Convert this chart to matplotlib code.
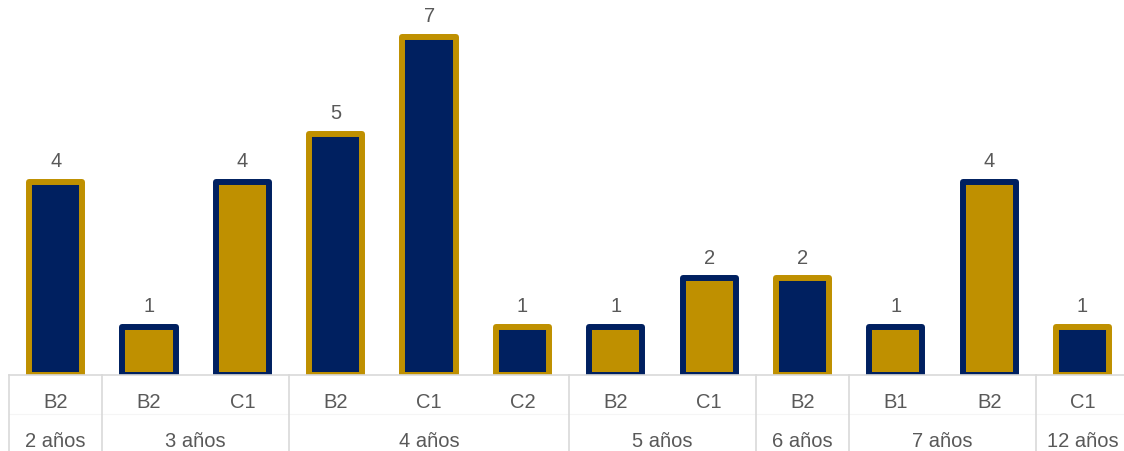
import matplotlib.pyplot as plt
import numpy as np

plt.rcParams['font.family'] = ['Liberation Sans', 'DejaVu Sans']

# data by age group
groups = ['2 años', '3 años', '4 años', '5 años', '6 años', '7 años', '12 años']
levels = [['B2'], ['B2', 'C1'], ['B2', 'C1', 'C2'], ['B2', 'C1'], ['B2'], ['B1', 'B2'], ['C1']]
counts = [[4], [1, 4], [5, 7, 1], [1, 2], [2], [1, 4], [1]]

navy = '#002060'
gold = '#BF9000'
grid = '#d9d9d9'
text_col = '#595959'

W, H = 1124, 452
fig = plt.figure(figsize=(W / 100, H / 100), dpi=100)
slot = 93.35
ax = fig.add_axes([9 / W, (H - 376) / H, 12 * slot / W, 376 / H])

x = 0
bounds = [-0.5]
for gi, (g, labs, vals) in enumerate(zip(groups, levels, counts)):
    face, edge = (navy, gold) if gi % 2 == 0 else (gold, navy)
    start = x
    for lab, v in zip(labs, vals):
        ax.bar(x, v, width=0.57, color=face, edgecolor=edge,
               linewidth=4.3, joinstyle='round', zorder=2)
        ax.annotate(str(v), (x, v), xytext=(0, 8.5), textcoords='offset points',
                    ha='center', va='bottom', fontsize=14.5, color=text_col)
        ax.text(x, -0.54, lab, ha='center', va='center', fontsize=14.5,
                color=text_col, clip_on=False)
        x += 1
    ax.text((start + x - 1) / 2, -1.36, g, ha='center', va='center', fontsize=14.5,
            color=text_col, clip_on=False)
    bounds.append(x - 0.5)

ax.set_xlim(-0.5, 11.5)
ax.set_ylim(0, 376 / 48.3)
ax.axis('off')

# category axis line and group separators
ax.plot([-0.5, 11.5], [0, 0], color=grid, lw=1.2, clip_on=False, zorder=3)
ax.plot([-0.5, 11.5], [-0.8, -0.8], color='#f5f5f5', lw=0.8, clip_on=False)
for b in bounds:
    ax.plot([b, b], [0, -1.6], color=grid, lw=1.2, clip_on=False)

fig.savefig('out.png', dpi=100)
